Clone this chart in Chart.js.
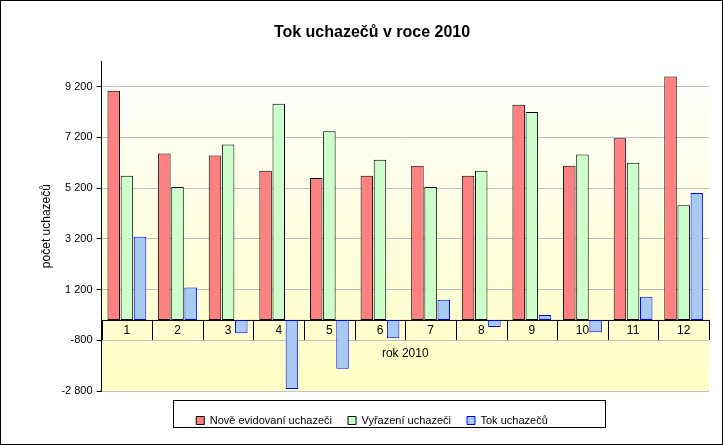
<!DOCTYPE html>
<html>
<head>
<meta charset="utf-8">
<script src="https://cdn.jsdelivr.net/npm/chart.js@4"></script>
<style>
  body { margin: 0; background: #fff; }
  #wrap { width: 721px; height: 443px; border: 1px solid #000; position: relative; }
</style>
</head>
<body>
<div id="wrap"><canvas id="tok" width="721" height="443"></canvas></div>
<script>
const months = ['1', '2', '3', '4', '5', '6', '7', '8', '9', '10', '11', '12'];
const noveEvidovani = [9040, 6560, 6480, 5880, 5600, 5680, 6080, 5680, 8480, 6080, 7160, 9600];
const vyrazeni = [5680, 5240, 6920, 8520, 7440, 6320, 5240, 5880, 8200, 6520, 6200, 4520];
const tok = [3280, 1280, -520, -2720, -1920, -720, 800, -280, 200, -480, 920, 5000];
const yTicks = [-2800, -800, 1200, 3200, 5200, 7200, 9200];

const fmt = v => String(v).replace(/\B(?=(\d{3})+(?!\d))/g, '\u00a0');

// plot background, category labels on the zero line, legend frame
const decor = {
  id: 'decor',
  beforeDraw(chart) {
    const { ctx, chartArea: a } = chart;
    const g = ctx.createLinearGradient(0, a.top, 0, a.bottom);
    g.addColorStop(0, '#ffffff');
    g.addColorStop(1, '#ffffc4');
    ctx.save();
    ctx.fillStyle = g;
    ctx.fillRect(a.left, a.top, a.right - a.left, a.bottom - a.top);
    ctx.restore();
  },
  beforeDatasetsDraw(chart) {
    const { ctx, chartArea: a, scales: { x, y } } = chart;
    const y0 = y.getPixelForValue(0);
    ctx.save();
    ctx.strokeStyle = '#000';
    ctx.lineWidth = 1;
    ctx.beginPath();
    ctx.moveTo(a.left, y0 + 0.5);
    ctx.lineTo(a.right, y0 + 0.5);
    const step = (a.right - a.left) / months.length;
    for (let i = 0; i <= months.length; i++) {
      const px = Math.round(a.left + i * step) + 0.5;
      ctx.moveTo(px, y0);
      ctx.lineTo(px, y0 + 20);
    }
    ctx.stroke();
    ctx.fillStyle = '#000';
    ctx.font = '12px Arial, "Liberation Sans", sans-serif';
    ctx.textAlign = 'center';
    ctx.textBaseline = 'top';
    months.forEach((m, i) => ctx.fillText(m, x.getPixelForValue(i), y0 + 5));
    ctx.fillText('rok 2010', (a.left + a.right) / 2, y0 + 28);
    ctx.restore();
  },
  afterDraw(chart) {
    const l = chart.legend;
    const { ctx } = chart;
    ctx.save();
    ctx.strokeStyle = '#000';
    ctx.strokeRect(172.5, l.top + 1.5, 432, 27);
    ctx.restore();
  }
};

new Chart(document.getElementById('tok'), {
  type: 'bar',
  data: {
    labels: months,
    datasets: [
      { label: 'Nově evidovaní uchazeči', data: noveEvidovani, backgroundColor: '#ff8080', borderColor: '#000', borderWidth: 1 },
      { label: 'Vyřazení uchazeči', data: vyrazeni, backgroundColor: '#ccffcc', borderColor: '#000', borderWidth: 1 },
      { label: 'Tok uchazečů', data: tok, backgroundColor: '#a6caf0', borderColor: '#0000ff', borderWidth: 1, borderDash: [1, 1] }
    ]
  },
  plugins: [decor],
  options: {
    responsive: false,
    animation: false,
    layout: { padding: { left: 34, right: 13, top: 0, bottom: 8 } },
    datasets: { bar: { categoryPercentage: 0.78, barPercentage: 0.95, borderSkipped: false } },
    plugins: {
      title: {
        display: true, text: 'Tok uchazečů v roce 2010', color: '#000',
        font: { family: 'Arial, "Liberation Sans", sans-serif', size: 16, weight: 'bold' },
        padding: { top: 22, bottom: 19 }
      },
      legend: {
        position: 'bottom',
        labels: {
          color: '#000', boxWidth: 8, boxHeight: 8, padding: 16,
          font: { family: 'Arial, "Liberation Sans", sans-serif', size: 11 }
        }
      },
      tooltip: { enabled: false }
    },
    scales: {
      x: {
        grid: { display: false },
        border: { display: false },
        ticks: { display: false }
      },
      y: {
        min: -2800,
        max: 10200,
        afterBuildTicks: s => { s.ticks = yTicks.map(v => ({ value: v })); },
        grid: { color: '#c0c0c0', drawTicks: true, tickLength: 5, tickColor: '#000' },
        border: { color: '#000' },
        ticks: {
          color: '#000', padding: 4,
          font: { family: 'Arial, "Liberation Sans", sans-serif', size: 11 },
          callback: v => fmt(v)
        },
        title: {
          display: true, text: 'počet uchazečů', color: '#000',
          font: { family: 'Arial, "Liberation Sans", sans-serif', size: 12 }
        }
      }
    }
  }
});
</script>
</body>
</html>
